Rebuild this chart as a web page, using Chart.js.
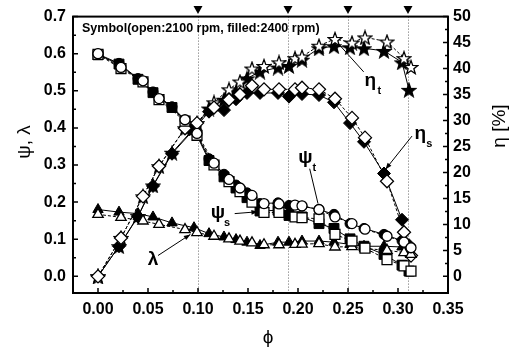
<!DOCTYPE html>
<html>
<head>
<meta charset="utf-8">
<script src="https://cdn.jsdelivr.net/npm/chart.js@4.4.1/dist/chart.umd.min.js"></script>
<style>
  html, body { margin: 0; padding: 0; background: #fff; }
</style>
</head>
<body>
<canvas id="chart" width="510" height="349"></canvas>
<script>
// filled symbols: 2400 rpm
const phi2400  = [0, 0.021, 0.040, 0.055, 0.074, 0.096, 0.111, 0.126, 0.138, 0.149, 0.162, 0.180, 0.191, 0.204, 0.221, 0.236, 0.252, 0.266, 0.286, 0.304, 0.311];
const psiT2400 = [0.599, 0.574, 0.533, 0.497, 0.457, 0.398, 0.317, 0.275, 0.246, 0.225, 0.196, 0.198, 0.191, 0.189, 0.180, 0.167, 0.142, 0.129, 0.113, 0.096, 0.079];
const psiS2400 = [0.597, 0.572, 0.531, 0.495, 0.455, 0.396, 0.312, 0.268, 0.238, 0.212, 0.176, 0.178, 0.164, 0.160, 0.142, 0.129, 0.101, 0.081, 0.059, 0.030, 0.014];
const lam2400  = [0.180, 0.173, 0.169, 0.160, 0.144, 0.131, 0.115, 0.106, 0.099, 0.092, 0.083, 0.092, 0.092, 0.095, 0.095, 0.092, 0.086, 0.081, 0.081, 0.079, 0.081];
const etaT2400 = [0, 5.8, 11.6, 17.5, 23.8, 28.5, 32.3, 34.0, 35.5, 38.1, 39.4, 40.2, 40.5, 41.7, 43.9, 44.3, 44.1, 43.9, 43.4, 41.2, 35.9];
const etaS2400 = [0, 5.8, 11.5, 17.4, 23.6, 28.3, 31.7, 32.0, 34.1, 35.3, 35.3, 35.3, 34.6, 35.1, 34.9, 33.5, 29.5, 25.9, 19.8, 10.9, 6.0];

// open symbols: 2100 rpm
const phi2100  = [0, 0.023, 0.045, 0.061, 0.087, 0.099, 0.116, 0.131, 0.142, 0.154, 0.166, 0.181, 0.197, 0.204, 0.221, 0.237, 0.254, 0.267, 0.289, 0.306, 0.313];
const psiT2100 = [0.600, 0.563, 0.527, 0.479, 0.422, 0.385, 0.305, 0.261, 0.238, 0.218, 0.196, 0.195, 0.192, 0.190, 0.180, 0.160, 0.142, 0.127, 0.108, 0.092, 0.077];
const psiS2100 = [0.598, 0.560, 0.524, 0.476, 0.418, 0.380, 0.300, 0.255, 0.228, 0.200, 0.172, 0.172, 0.160, 0.158, 0.155, 0.113, 0.095, 0.076, 0.045, 0.028, 0.014];
const lam2100  = [0.167, 0.159, 0.149, 0.140, 0.126, 0.118, 0.108, 0.101, 0.095, 0.090, 0.085, 0.085, 0.086, 0.087, 0.088, 0.079, 0.080, 0.075, 0.070, 0.064, 0.059];
const etaT2100 = [0, 7.4, 15.4, 21.2, 28.5, 29.5, 33.5, 36.0, 37.5, 40.0, 40.5, 41.2, 42.0, 42.3, 44.4, 45.7, 45.0, 46.0, 45.2, 42.0, 40.3];
const etaS2100 = [0, 7.4, 15.4, 21.2, 28.5, 29.5, 32.5, 34.0, 35.0, 36.7, 36.0, 36.0, 36.0, 36.3, 36.0, 34.2, 30.5, 26.7, 18.3, 8.5, 4.0];

// marked operating points (dotted lines + triangles on top)
const markPhi = [0.10, 0.19, 0.25, 0.31];

// tick labels
const xTicks = [0, 0.05, 0.10, 0.15, 0.20, 0.25, 0.30, 0.35];
const leftTicks = [0, 0.1, 0.2, 0.3, 0.4, 0.5, 0.6, 0.7];
const rightTicks = [0, 5, 10, 15, 20, 25, 30, 35, 40, 45, 50];

// curve labels, positioned in (phi, psi) units
const notes = [
  { main: 'η', sub: 't', at: [0.2724, 0.527], from: [0.2407, 0.626], to: [0.2657, 0.551], head: false },
  { main: 'η', sub: 's', at: [0.3224, 0.383], from: [0.3140, 0.378], to: [0.2874, 0.288], head: true },
  { main: 'ψ', sub: 't', at: [0.2074, 0.320], from: [0.2117, 0.290], to: [0.2200, 0.196], head: false },
  { main: 'ψ', sub: 's', at: [0.1200, 0.171], from: [0.1367, 0.169], to: [0.1600, 0.174], head: true },
  { main: 'λ', sub: '', at: [0.0550, 0.045], from: [0.0600, 0.056], to: [0.0924, 0.113], head: true }
];

const FONT = '"Liberation Sans", Arial, sans-serif';

function makeStar(fill) {
  const s = 16, c = document.createElement('canvas');
  c.width = s; c.height = s;
  const g = c.getContext('2d');
  g.beginPath();
  for (let i = 0; i < 10; i++) {
    const a = -Math.PI / 2 + i * Math.PI / 5;
    const rr = i % 2 ? 3 : 7.2;
    g.lineTo(s / 2 + rr * Math.cos(a), s / 2 + 0.8 + rr * Math.sin(a));
  }
  g.closePath();
  g.fillStyle = fill; g.fill();
  g.lineWidth = 1.3; g.lineJoin = 'miter'; g.strokeStyle = '#000'; g.stroke();
  return c;
}
const starFilled = makeStar('#000');
const starOpen = makeStar('#fff');

function series(label, xs, ys, axis, style, filled, radius) {
  return {
    label: label,
    yAxisID: axis,
    data: xs.map((x, i) => ({ x: x, y: ys[i] })),
    showLine: true,
    borderColor: '#000',
    borderWidth: 1,
    borderDash: filled ? [] : [3, 2],
    pointStyle: style,
    pointRadius: radius,
    pointBackgroundColor: filled ? '#000' : '#fff',
    pointBorderColor: '#000',
    pointBorderWidth: filled ? 1 : 1.3,
    tension: 0
  };
}

const overlay = {
  id: 'overlay',
  beforeDraw(chart) {
    const ctx = chart.ctx;
    ctx.save();
    ctx.fillStyle = '#fff';
    ctx.fillRect(0, 0, chart.width, chart.height);
    ctx.restore();
  },
  beforeDatasetsDraw(chart) {
    const { ctx, chartArea: a, scales: { x } } = chart;
    ctx.save();
    ctx.strokeStyle = '#666';
    ctx.lineWidth = 1;
    ctx.setLineDash([1, 2]);
    markPhi.forEach(v => {
      const px = Math.round(x.getPixelForValue(v)) + 0.5;
      ctx.beginPath();
      ctx.moveTo(px, a.top);
      ctx.lineTo(px, a.bottom);
      ctx.stroke();
    });
    ctx.restore();
  },
  afterDraw(chart) {
    const { ctx, chartArea: a, scales: { x, y, y2 } } = chart;
    ctx.save();

    // frame
    ctx.strokeStyle = '#000';
    ctx.lineWidth = 2;
    ctx.strokeRect(a.left, a.top, a.right - a.left, a.bottom - a.top);

    // inward ticks
    ctx.lineWidth = 1.5;
    ctx.beginPath();
    for (let v = 0; v <= 0.35 + 1e-9; v += 0.025) {
      const px = x.getPixelForValue(v);
      const len = Math.abs(v / 0.05 - Math.round(v / 0.05)) < 1e-6 ? 5 : 3;
      ctx.moveTo(px, a.bottom); ctx.lineTo(px, a.bottom - len);
    }
    for (let v = 0; v <= 0.7 + 1e-9; v += 0.05) {
      const py = y.getPixelForValue(v);
      const len = Math.abs(v / 0.1 - Math.round(v / 0.1)) < 1e-6 ? 5 : 3;
      ctx.moveTo(a.left, py); ctx.lineTo(a.left + len, py);
    }
    for (let v = 0; v <= 50 + 1e-9; v += 2.5) {
      const py = y2.getPixelForValue(v);
      const len = v % 5 === 0 ? 5 : 3;
      ctx.moveTo(a.right, py); ctx.lineTo(a.right - len, py);
    }
    ctx.stroke();

    // triangles above the frame
    ctx.fillStyle = '#000';
    markPhi.forEach(v => {
      const px = x.getPixelForValue(v);
      ctx.beginPath();
      ctx.moveTo(px - 4.5, 6);
      ctx.lineTo(px + 4.5, 6);
      ctx.lineTo(px, 14);
      ctx.closePath();
      ctx.fill();
    });

    // legend note
    ctx.font = 'bold 12.5px ' + FONT;
    ctx.textAlign = 'left';
    ctx.textBaseline = 'alphabetic';
    ctx.fillText('Symbol(open:2100 rpm, filled:2400 rpm)', a.left + 9, 32);

    // curve labels with leader lines
    notes.forEach(n => {
      const fx = x.getPixelForValue(n.from[0]), fy = y.getPixelForValue(n.from[1]);
      const tx = x.getPixelForValue(n.to[0]), ty = y.getPixelForValue(n.to[1]);
      ctx.lineWidth = 1;
      ctx.beginPath();
      ctx.moveTo(fx, fy); ctx.lineTo(tx, ty);
      ctx.stroke();
      if (n.head) {
        const ang = Math.atan2(ty - fy, tx - fx);
        ctx.beginPath();
        ctx.moveTo(tx, ty);
        ctx.lineTo(tx - 7 * Math.cos(ang - 0.35), ty - 7 * Math.sin(ang - 0.35));
        ctx.lineTo(tx - 7 * Math.cos(ang + 0.35), ty - 7 * Math.sin(ang + 0.35));
        ctx.closePath();
        ctx.fill();
      }
      const lx = x.getPixelForValue(n.at[0]), ly = y.getPixelForValue(n.at[1]);
      ctx.font = 'bold 19px ' + FONT;
      ctx.textAlign = 'center';
      ctx.textBaseline = 'middle';
      ctx.fillText(n.main, lx, ly);
      if (n.sub) {
        ctx.font = 'bold 11px ' + FONT;
        ctx.fillText(n.sub, lx + 9, ly + 10);
      }
    });

    // axis titles
    ctx.font = '19px ' + FONT;
    ctx.textAlign = 'center';
    ctx.textBaseline = 'middle';
    ctx.fillText('ϕ', x.getPixelForValue(0.17), 338);

    ctx.save();
    ctx.translate(25, 142);
    ctx.rotate(-Math.PI / 2);
    ctx.fillText('ψ, λ', 0, 0);
    ctx.restore();

    ctx.save();
    ctx.translate(500, 126);
    ctx.rotate(-Math.PI / 2);
    ctx.fillText('η [%]', 0, 0);
    ctx.restore();

    ctx.restore();
  }
};

const tickFont = { family: FONT, size: 16, weight: 'bold' };

new Chart(document.getElementById('chart').getContext('2d'), {
  type: 'scatter',
  data: {
    datasets: [
      series('ψt 2100', phi2100, psiT2100, 'y', 'circle', false, 5),
      series('ψs 2100', phi2100, psiS2100, 'y', 'rect', false, 7),
      series('λ 2100', phi2100, lam2100, 'y', 'triangle', false, 6),
      series('ηs 2100', phi2100, etaS2100, 'y2', 'rectRot', false, 6.5),
      series('ηt 2100', phi2100, etaT2100, 'y2', starOpen, false, 7),
      series('ψt 2400', phi2400, psiT2400, 'y', 'circle', true, 5),
      series('ψs 2400', phi2400, psiS2400, 'y', 'rect', true, 7),
      series('λ 2400', phi2400, lam2400, 'y', 'triangle', true, 6),
      series('ηs 2400', phi2400, etaS2400, 'y2', 'rectRot', true, 6.5),
      series('ηt 2400', phi2400, etaT2400, 'y2', starFilled, true, 7)
    ]
  },
  options: {
    responsive: false,
    animation: false,
    devicePixelRatio: 1,
    layout: { padding: { top: 16, left: 0, right: 0, bottom: 0 } },
    plugins: {
      legend: { display: false },
      tooltip: { enabled: false }
    },
    scales: {
      x: {
        type: 'linear',
        min: -0.025,
        max: 0.35,
        grid: { display: false, drawTicks: false },
        border: { display: false },
        afterBuildTicks: s => { s.ticks = xTicks.map(v => ({ value: v })); },
        afterFit: s => { s.height = 56; },
        ticks: {
          padding: 7,
          color: '#000',
          font: tickFont,
          autoSkip: false,
          maxRotation: 0,
          callback: v => v.toFixed(2)
        }
      },
      y: {
        position: 'left',
        min: -0.045,
        max: 0.7,
        grid: { display: false, drawTicks: false },
        border: { display: false },
        afterBuildTicks: s => { s.ticks = leftTicks.map(v => ({ value: v })); },
        afterFit: s => { s.width = 73; },
        ticks: {
          padding: 7,
          color: '#000',
          font: tickFont,
          autoSkip: false,
          callback: v => v.toFixed(1)
        }
      },
      y2: {
        position: 'right',
        min: -3.2,
        max: 50,
        grid: { display: false, drawTicks: false },
        border: { display: false },
        afterBuildTicks: s => { s.ticks = rightTicks.map(v => ({ value: v })); },
        afterFit: s => { s.width = 62; },
        ticks: {
          padding: 5,
          color: '#000',
          font: tickFont,
          autoSkip: false,
          callback: v => String(v)
        }
      }
    }
  },
  plugins: [overlay]
});
</script>
</body>
</html>
